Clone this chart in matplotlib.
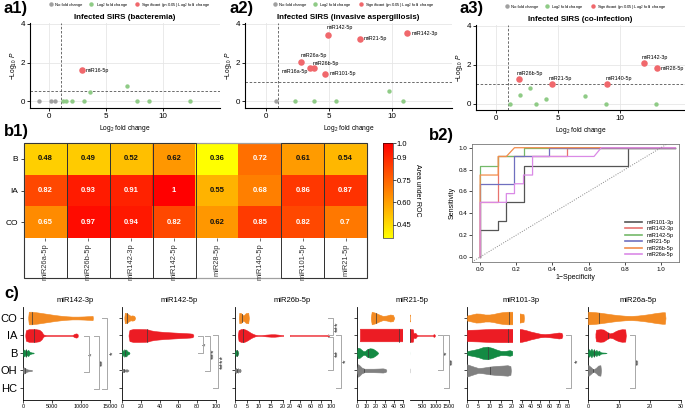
import matplotlib
matplotlib.use('Agg')
import matplotlib.pyplot as plt
import numpy as np
from matplotlib.colors import LinearSegmentedColormap
from matplotlib.lines import Line2D
from matplotlib.patches import Rectangle

plt.rcParams['font.family'] = ['Liberation Sans', 'DejaVu Sans']
plt.rcParams['mathtext.fontset'] = 'custom'
plt.rcParams['mathtext.rm'] = 'Liberation Sans'
plt.rcParams['mathtext.it'] = 'Liberation Sans:italic'

# ---------------- data: volcano plots ----------------
volcano_titles = ['Infected SIRS (bacteremia)',
                  'Infected SIRS (invasive aspergillosis)',
                  'Infected SIRS (co-infection)']

a1_grey_x = [-0.88, 0.15, 0.5]
a1_grey_y = [0, 0, 0]
a1_green_x = [1.24, 1.47, 1.97, 3.09, 3.53, 6.82, 7.7, 8.8, 12.4]
a1_green_y = [0, 0, 0, 0, 0.49, 0.78, 0, 0, 0]
a1_sig_x = [2.85]
a1_sig_y = [1.62]
a1_sig_lab = ['miR16-5p']
a1_pline = 0.54

a2_grey_x = [0.82]
a2_grey_y = [0]
a2_green_x = [2.34, 3.8, 5.56, 9.79, 10.88]
a2_green_y = [0, 0, 0, 0.52, 0]
a2_sig_x = [4.97, 7.5, 11.25, 2.82, 3.8, 3.54, 4.73]
a2_sig_y = [3.41, 3.22, 3.53, 2.02, 1.70, 1.70, 1.41]
a2_sig_lab = ['miR142-5p', 'miR21-5p', 'miR142-3p', 'miR26a-5p', 'miR26b-5p', 'miR16a-5p', 'miR101-5p']
a2_pline = 1.0

a3_grey_x = []
a3_grey_y = []
a3_green_x = [1.16, 1.97, 2.72, 3.26, 4.07, 7.17, 8.92, 12.96]
a3_green_y = [0, 0.46, 0.84, 0, 0.26, 0.41, 0, 0]
a3_sig_x = [1.83, 4.53, 8.98, 12.0, 13.02]
a3_sig_y = [1.26, 1.03, 1.04, 2.09, 1.83]
a3_sig_lab = ['miR26b-5p', 'miR21-5p', 'miR140-5p', 'miR142-3p', 'miR28-5p']
a3_pline = 1.0

# ---------------- data: AUC heatmap ----------------
auc_rows = ['B', 'IA', 'CO']
auc_cols = ['miR26a-5p', 'miR26b-5p', 'miR142-3p', 'miR142-5p',
            'miR28-5p', 'miR140-5p', 'miR101-5p', 'miR21-5p']
auc_B = [0.48, 0.49, 0.52, 0.62, 0.36, 0.72, 0.61, 0.54]
auc_IA = [0.82, 0.93, 0.91, 1, 0.55, 0.68, 0.86, 0.87]
auc_CO = [0.65, 0.97, 0.94, 0.82, 0.62, 0.85, 0.82, 0.7]

# ---------------- data: ROC curves ----------------
roc_names = ['miR101-3p', 'miR142-3p', 'miR142-5p', 'miR21-5p', 'miR26b-5p', 'miR26a-5p']
roc_fpr = [
    [0, 0, 0.1, 0.1, 0.145, 0.145, 0.24, 0.24, 0.82, 0.82, 1.08],
    [0, 0, 0.1, 0.1, 0.48, 0.48, 1.08],
    [0, 0, 0.1, 0.1, 0.24, 0.24, 1.08],
    [0, 0, 0.19, 0.19, 0.38, 0.38, 1.08],
    [0, 0, 0.1, 0.1, 0.145, 0.19, 1.08],
    [0, 0, 0.145, 0.145, 0.19, 0.19, 0.24, 0.24, 0.29, 0.29, 0.63, 0.67, 1.08],
]
roc_tpr = [
    [0, 0.25, 0.25, 0.33, 0.33, 0.5, 0.5, 0.83, 0.83, 1.0, 1.0],
    [0, 0.5, 0.5, 0.92, 0.92, 1.0, 1.0],
    [0, 0.83, 0.83, 0.92, 0.92, 1.0, 1.0],
    [0, 0.67, 0.67, 0.92, 0.92, 1.0, 1.0],
    [0, 0.75, 0.75, 0.92, 0.92, 1.0, 1.0],
    [0, 0.5, 0.5, 0.58, 0.58, 0.67, 0.67, 0.75, 0.75, 0.92, 0.92, 1.0, 1.0],
]
roc_colors = ['#555555', '#E8736F', '#74B96A', '#6F6FBF', '#F28C4B', '#DA8AE6']

# ---------------- data: violin panels (profiles) ----------------
groups = ['CO', 'IA', 'B', 'OH', 'HC']
group_colors = {'CO': '#F38A22', 'IA': '#EC1C24', 'B': '#138A43', 'OH': '#808080'}
c_titles = ['miR142-3p', 'miR142-5p', 'miR26b-5p', 'miR21-5p', 'miR101-3p', 'miR26a-5p']

# each: group -> (x values, half widths, median)
v_miR142_3p = {
    'CO': ([900, 1000, 1500, 2500, 3500, 4500, 5500, 6500, 7500, 8500, 9500, 10500, 11500, 12000, 12050],
           [0.05, 0.36, 0.36, 0.32, 0.27, 0.22, 0.17, 0.13, 0.1, 0.08, 0.08, 0.09, 0.11, 0.12, 0.0], 1500),
    'IA': ([400, 500, 1000, 2000, 2800, 3200, 3500, 4000, 6000, 8500, 8900, 9200, 9400, 9450],
           [0.05, 0.3, 0.36, 0.37, 0.33, 0.22, 0.06, 0.02, 0.02, 0.02, 0.1, 0.12, 0.08, 0.0], 1900),
    'B': ([0, 100, 300, 500, 700, 900, 1100, 1300, 1500, 1800, 1850],
          [0.05, 0.2, 0.12, 0.22, 0.1, 0.18, 0.08, 0.05, 0.03, 0.02, 0], 600),
    'OH': ([0, 100, 300, 600, 900, 1200, 1500, 1550],
           [0.1, 0.18, 0.15, 0.08, 0.05, 0.04, 0.03, 0], 400),
}
v_miR142_5p = {
    'CO': ([2.5, 3, 5, 7, 9, 11, 13, 14], [0.05, 0.3, 0.28, 0.2, 0.13, 0.15, 0.12, 0], 5),
    'IA': ([7, 8, 12, 18, 25, 28, 30, 35, 45, 55, 65, 72, 75, 76],
           [0.05, 0.32, 0.37, 0.37, 0.36, 0.34, 0.3, 0.25, 0.2, 0.17, 0.14, 0.12, 0.1, 0], 27),
    'B': ([0, 0.5, 1.5, 2.5, 3.5, 4.5, 5.5, 6.5, 7.5, 8],
          [0.05, 0.18, 0.1, 0.22, 0.12, 0.2, 0.1, 0.08, 0.05, 0], 3),
    'OH': ([0, 1, 2, 3, 4, 5, 6, 7], [0.04, 0.1, 0.06, 0.05, 0.06, 0.07, 0.05, 0], 2),
}
v_miR26b_5p = {
    'CO': ([1.6, 1.8, 2.5, 3.5, 4.5, 5.5, 5.8], [0.05, 0.3, 0.28, 0.14, 0.28, 0.3, 0], 3),
    'IA': ([1.2, 1.5, 2.5, 3.5, 4.5, 5.5, 6.5, 7.5, 8.5, 9.5, 11, 13, 15, 16.5, 18, 19.5, 21, 40, 80, 93, 94.5, 96, 96.2],
           [0.05, 0.3, 0.37, 0.38, 0.33, 0.25, 0.16, 0.09, 0.04, 0.02, 0.02, 0.05, 0.07, 0.07, 0.05, 0.02,
            0.015, 0.015, 0.015, 0.02, 0.07, 0.03, 0], 3.5),
    'B': ([0, 0.3, 0.7, 1.1, 1.4], [0.05, 0.15, 0.17, 0.12, 0], 0.7),
    'OH': ([0, 0.3, 0.8, 1.2, 1.7, 2.1, 2.4], [0.05, 0.14, 0.08, 0.13, 0.06, 0.1, 0], 1),
}
v_miR21_5p = {
    'CO': ([15, 16, 20, 24, 28, 32, 36, 39, 40.5], [0.05, 0.36, 0.3, 0.2, 0.12, 0.14, 0.2, 0.18, 0], 21),
    'IA': ([3.7, 4, 20, 40, 60, 120, 160, 180, 250, 300, 350, 500, 900, 930, 960, 980],
           [0.36, 0.36, 0.36, 0.36, 0.36, 0.36, 0.35, 0.12, 0.15, 0.05, 0.015, 0.015, 0.015, 0.08, 0.06, 0], 46),
    'B': ([0, 1, 3, 5, 7, 9, 11, 14, 17, 20, 22, 23],
          [0.1, 0.3, 0.27, 0.18, 0.1, 0.12, 0.22, 0.27, 0.25, 0.15, 0.07, 0], 12),
    'OH': ([0, 1, 3, 5, 8, 12, 18, 24, 28, 31, 32],
           [0.05, 0.36, 0.28, 0.17, 0.1, 0.1, 0.1, 0.11, 0.12, 0.09, 0], 8),
}
v_miR101_3p = {
    'CO': ([0, 2, 4, 6, 8, 10, 12, 14, 16, 18, 20, 22, 24, 28, 30, 32, 32.5],
           [0.14, 0.2, 0.26, 0.25, 0.2, 0.2, 0.24, 0.3, 0.34, 0.36, 0.36, 0.34, 0.3, 0.26, 0.24, 0.22, 0], 18.5),
    'IA': ([0, 0.2, 5, 10, 15, 20, 25, 30, 35, 40, 45, 50, 55, 60, 65, 70, 73, 74],
           [0.3, 0.32, 0.34, 0.37, 0.38, 0.38, 0.38, 0.36, 0.3, 0.22, 0.16, 0.1, 0.08, 0.1, 0.13, 0.17, 0.15, 0], 18),
    'B': ([0, 0.5, 3, 5, 7, 9, 11, 13, 15, 17, 19, 20, 20.2],
          [0.08, 0.12, 0.18, 0.24, 0.33, 0.36, 0.3, 0.2, 0.12, 0.12, 0.16, 0.12, 0], 9.5),
    'OH': ([0, 0.5, 3, 5, 7, 10, 13, 16, 18, 19.3, 19.5],
           [0.35, 0.33, 0.22, 0.14, 0.16, 0.22, 0.26, 0.28, 0.3, 0.25, 0], 10),
}
v_miR26a_5p = {
    'CO': ([0, 0.2, 2, 4, 6, 8, 10, 12, 14, 16, 18, 20, 22, 24, 24.8, 25],
           [0.35, 0.36, 0.34, 0.3, 0.25, 0.2, 0.16, 0.13, 0.12, 0.14, 0.18, 0.23, 0.29, 0.33, 0.33, 0], 3.5),
    'IA': ([2.4, 2.6, 4, 5, 6, 7, 8, 9, 10, 11, 12, 12.2],
           [0.1, 0.33, 0.36, 0.34, 0.22, 0.12, 0.16, 0.26, 0.33, 0.36, 0.35, 0], 6.5),
    'B': ([0, 0.3, 0.7, 1.1, 1.5, 1.9, 2.3, 2.7, 3.1, 3.5, 4, 4.5, 5.5, 6],
          [0.08, 0.22, 0.12, 0.25, 0.1, 0.22, 0.08, 0.18, 0.07, 0.14, 0.05, 0.03, 0.02, 0.0], 1.8),
    'OH': ([0, 0.2, 1, 1.7, 2.5, 3.3, 4, 4.2], [0.3, 0.3, 0.18, 0.06, 0.14, 0.28, 0.3, 0], 1.5),
}

# significance comparisons (group1, group2, label)
sig_miR142_3p = [('IA', 'OH', '*'), ('IA', 'HC', '**'), ('CO', 'HC', '*')]
sig_miR142_5p = [('IA', 'B', '*'), ('IA', 'OH', '***'), ('IA', 'HC', '****')]
sig_miR26b_5p = [('CO', 'IA', '***'), ('IA', 'OH', '**'), ('IA', 'HC', '*')]
sig_miR21_5p = [('IA', 'OH', '*'), ('IA', 'HC', '**')]
sig_miR101_3p = [('IA', 'HC', '*')]
sig_miR26a_5p = [('IA', 'HC', '**')]

# ---------------- figure ----------------
W, H = 685, 413
fig = plt.figure(figsize=(6.85, 4.13), dpi=100)


def box(x0, y0, x1, y1):
    return [x0 / W, 1 - y1 / H, (x1 - x0) / W, (y1 - y0) / H]


def ftext(x, y, s, **kw):
    fig.text(x / W, 1 - y / H, s, **kw)


grey_c, green_c, red_c = '#A0A0A0', '#8FCB86', '#F0686C'


def volcano(rect, xlim, ylim, gx, gy, nx, ny, sx, sy, labs, lpos, pline, title):
    ax = fig.add_axes(box(*rect))
    ax.set_xlim(*xlim)
    ax.set_ylim(*ylim)
    ax.grid(True, color='#E6E6E6', lw=0.6)
    ax.set_axisbelow(True)
    for s in ['top', 'right']:
        ax.spines[s].set_visible(False)
    for s in ['left', 'bottom']:
        ax.spines[s].set_linewidth(0.8)
    ax.set_xticks([0, 5, 10])
    ax.set_yticks([0, 2, 4])
    ax.tick_params(labelsize=5.8, length=2, width=0.6, pad=1.5)
    ax.axvline(1, ls=(0, (3, 2)), color='#555555', lw=0.6)
    ax.axhline(pline, ls=(0, (3, 2)), color='#555555', lw=0.6)
    if gx:
        ax.scatter(gx, gy, s=10, color=grey_c, lw=0, zorder=3)
    ax.scatter(nx, ny, s=10, color=green_c, lw=0, zorder=3)
    ax.scatter(sx, sy, s=22, color=red_c, lw=0, zorder=3)
    for (x, y, lab, (lx, ly, ha)) in zip(sx, sy, labs, lpos):
        ax.text(lx, ly, lab, fontsize=3.9, ha=ha, va='center', zorder=4)
    ax.set_title(title, fontsize=5.8, fontweight='bold', pad=3)
    ax.set_xlabel(r'$\mathrm{Log}_{2}$ fold change', fontsize=4.8, labelpad=2)
    ax.set_ylabel(r'$-\mathrm{Log}_{10}\ \mathit{P}$', fontsize=4.8, labelpad=1)
    handles = [Line2D([], [], marker='o', ls='', color=grey_c, ms=2.2),
               Line2D([], [], marker='o', ls='', color=green_c, ms=2.2),
               Line2D([], [], marker='o', ls='', color=red_c, ms=2.2)]
    ax.legend(handles, ['No fold change', r'Log$_2$ fold change',
                        r'Significant (p<0.05) Log$_2$ fold change'],
              loc='center', bbox_to_anchor=(0.52, 1.215), ncol=3, fontsize=3.0,
              frameon=False, handletextpad=0.1, columnspacing=1.0, borderaxespad=0)
    return ax


volcano((30, 23, 220, 108), (-1.7, 15.0), (-0.36, 4.05),
        a1_grey_x, a1_grey_y, a1_green_x, a1_green_y, a1_sig_x, a1_sig_y, a1_sig_lab,
        [(3.15, 1.58, 'left')], a1_pline, volcano_titles[0])
volcano((245, 23, 452, 108), (-1.65, 14.8), (-0.36, 4.05),
        a2_grey_x, a2_grey_y, a2_green_x, a2_green_y, a2_sig_x, a2_sig_y, a2_sig_lab,
        [(4.85, 3.8, 'left'), (7.8, 3.22, 'left'), (11.6, 3.53, 'left'), (2.8, 2.37, 'left'),
         (3.72, 1.95, 'left'), (3.35, 1.53, 'right'), (5.05, 1.41, 'left')],
        a2_pline, volcano_titles[1])
volcano((476, 25, 685, 110), (-1.62, 15.3), (-0.31, 4.05),
        a3_grey_x, a3_grey_y, a3_green_x, a3_green_y, a3_sig_x, a3_sig_y, a3_sig_lab,
        [(1.7, 1.56, 'left'), (4.3, 1.3, 'left'), (8.84, 1.3, 'left'), (11.8, 2.37, 'left'),
         (13.3, 1.83, 'left')], a3_pline, volcano_titles[2])

ftext(4, 1, 'a1)', fontsize=12, fontweight='bold', va='top')
ftext(229, 1, 'a2)', fontsize=12, fontweight='bold', va='top')
ftext(459, 1, 'a3)', fontsize=12, fontweight='bold', va='top')

# ---------------- b1 heatmap ----------------
auc = np.array([auc_B, auc_IA, auc_CO])
cmap = LinearSegmentedColormap.from_list('auc', ['#FFFF00', '#FF0000'])
axh = fig.add_axes(box(24, 143, 367, 238))
im = axh.imshow(auc, cmap=cmap, vmin=0.36, vmax=1.0, aspect='auto',
                extent=(-0.5, 7.5, 2.5, -0.5), interpolation='nearest')
for i in range(auc.shape[0]):
    for j in range(auc.shape[1]):
        v = auc[i, j]
        axh.text(j, i, f'{v:g}', ha='center', va='center', fontsize=5.5,
                 fontweight='bold', color='white' if v >= 0.64 else '#111111')
axh.set_xticks(range(len(auc_cols)))
axh.set_xticklabels(auc_cols, rotation=90, fontsize=5.4)
axh.set_yticks(range(len(auc_rows)))
axh.set_yticklabels(auc_rows, fontsize=6)
axh.tick_params(axis='x', length=2, width=0.5, pad=2, colors='#333333')
axh.tick_params(axis='y', length=2.5, width=0.5, pad=1.5)
for s in axh.spines.values():
    s.set_visible(False)
label_h = 40 / 31.7
axh.add_patch(Rectangle((-0.5, -0.5), 8, 3 + label_h, fill=False, ec='#A0A0A0', lw=0.9, clip_on=False))
for c in [0, 1, 2, 3, 6, 7]:
    axh.add_patch(Rectangle((c - 0.5, -0.5), 1, 3 + label_h, fill=False, ec='#333333',
                            lw=0.7, clip_on=False, zorder=5))

cax = fig.add_axes(box(383, 143, 393, 238))
cb = fig.colorbar(im, cax=cax, ticks=[0.45, 0.6, 0.75, 0.9, 1.0])
cb.ax.set_yticklabels(['0.45', '0.60', '0.75', '0.9', '1.0'])
cb.ax.tick_params(labelsize=5.5, length=2, width=0.5, pad=0.5)
cb.outline.set_linewidth(0.4)
cb.set_label('Area under ROC', rotation=270, fontsize=5, labelpad=7)

ftext(4, 124, 'b1)', fontsize=12, fontweight='bold', va='top')

# ---------------- b2 ROC ----------------
axr = fig.add_axes(box(472, 144, 679, 262))
for fx, fy, col, nm in zip(roc_fpr, roc_tpr, roc_colors, roc_names):
    axr.plot(fx, fy, color=col, lw=0.9, label=nm)
axr.axline((0, 0), (1, 1), ls=(0, (1, 1.5)), color='#888888', lw=0.7)
axr.set_xlim(-0.045, 1.1)
axr.set_ylim(-0.046, 1.034)
axr.set_xticks(np.arange(0, 1.01, 0.2))
axr.set_yticks(np.arange(0, 1.01, 0.2))
axr.xaxis.set_major_formatter(plt.FormatStrFormatter('%.1f'))
axr.yaxis.set_major_formatter(plt.FormatStrFormatter('%.1f'))
axr.tick_params(labelsize=4.5, length=2, width=0.5, pad=1.5)
for s in axr.spines.values():
    s.set_color('#777777')
    s.set_linewidth(0.6)
axr.set_xlabel('1\u2212Specificity', fontsize=5, labelpad=1.5)
axr.set_ylabel('Sensitivity', fontsize=5, labelpad=2)
lg = axr.legend(loc='lower right', fontsize=4, frameon=False, handlelength=3.2,
                labelspacing=0.25, borderaxespad=0.5, handletextpad=0.8)
for h in lg.get_lines():
    h.set_linewidth(1.2)
ftext(429, 128, 'b2)', fontsize=12, fontweight='bold', va='top')

# ---------------- c violins ----------------
CY0, CY1 = 307, 400
YLIM = (4.69, -0.63)
row_of = {g: i for i, g in enumerate(groups)}


def c_ax(x0, x1, xlim, xticks, left=True, labels=False):
    ax = fig.add_axes(box(x0, CY0, x1, CY1))
    ax.set_xlim(*xlim)
    ax.set_ylim(*YLIM)
    ax.patch.set_alpha(0)
    ax.spines['top'].set_visible(False)
    ax.spines['right'].set_visible(False)
    ax.spines['bottom'].set_linewidth(0.6)
    ax.spines['left'].set_linewidth(0.6)
    if left:
        ax.set_yticks(range(5))
        if labels:
            ax.set_yticklabels(groups, fontsize=8)
        else:
            ax.set_yticklabels([])
    else:
        ax.spines['left'].set_visible(False)
        ax.set_yticks([])
    ax.set_xticks(xticks)
    ax.tick_params(axis='x', labelsize=3.9, length=2, width=0.5, pad=1)
    ax.tick_params(axis='y', length=2, width=0.5, pad=2)
    return ax


def draw_violins(axes, data):
    for g, (xs, ws, med) in data.items():
        r = row_of[g]
        xs = np.asarray(xs, float)
        ws = np.asarray(ws, float)
        col = group_colors[g]
        for ax in axes:
            ax.fill_between(xs, r - ws, r + ws, facecolor=col, edgecolor=col, lw=0.4, zorder=3)
            wm = np.interp(med, xs, ws)
            ax.plot([med, med], [r - wm, r + wm], color='#3A3A3A', lw=0.5, zorder=4)


def brackets(ax, sigs, xs, lxs, tick, offs=None):
    for k, ((g1, g2, lab), x, lx) in enumerate(zip(sigs, xs, lxs)):
        r1, r2 = row_of[g1], row_of[g2]
        if offs is not None:
            r1 += offs[k][0]
            r2 += offs[k][1]
        ax.plot([x - tick, x, x, x - tick], [r1, r1, r2, r2], color='#A8A8A8', lw=0.7,
                clip_on=False, zorder=5)
        ax.text(lx, (r1 + r2) / 2, lab, rotation=90, ha='center', va='center',
                fontsize=6.5, color='#333333', clip_on=False)


# c1
ax1 = c_ax(23, 110, (0, 15000), [0, 5000, 10000, 15000], labels=True)
ax1.set_xticklabels(['0', '5000', '10000', '15000'])
draw_violins([ax1], v_miR142_3p)
brackets(ax1, sig_miR142_3p, [11300, 13050, 14430], [11950, 13850, 15500], 850,
         offs=[(0.05, 0.1), (0.05, 0.05), (0, 0.05)])

# c2
ax2 = c_ax(122, 216, (0, 100), [0, 20, 40, 60, 80, 100])
draw_violins([ax2], v_miR142_5p)
brackets(ax2, sig_miR142_5p, [86, 93.6, 102.5], [89.8, 97.5, 107.5], 5.5,
         offs=[(0.05, 0), (0.05, 0.05), (0, 0)])

# c3 (broken axis)
ax3a = c_ax(235, 283, (0, 20), [0, 5, 10, 15, 20])
ax3b = c_ax(290, 331, (20, 100), [20, 40, 60, 80, 100], left=False)
draw_violins([ax3a, ax3b], v_miR26b_5p)
brackets(ax3b, sig_miR26b_5p, [104, 104, 119.5], [114, 114, 129], 9.5,
         offs=[(0, -0.05), (0.08, 0), (0.0, 0)])

# c4 (broken axis)
ax4a = c_ax(357, 403, (0, 50), [0, 10, 20, 30, 40, 50])
ax4b = c_ax(410, 449, (50, 1500), [500, 1000, 1500], left=False)
draw_violins([ax4a, ax4b], v_miR21_5p)
brackets(ax4b, sig_miR21_5p, [1277, 1500], [1420, 1660], 185)

# c5 (broken axis)
ax5a = c_ax(467, 512, (0, 20), [0, 5, 10, 15, 20])
ax5b = c_ax(520, 568, (28.2, 80), [30, 40, 50, 60, 70, 80], left=False)
draw_violins([ax5a, ax5b], v_miR101_3p)
brackets(ax5b, sig_miR101_3p, [82.8], [90.6], 5.4)

# c6
ax6 = c_ax(588, 681, (0, 30), [0, 10, 20, 30])
draw_violins([ax6], v_miR26a_5p)
brackets(ax6, sig_miR26a_5p, [15.0], [16.6], 1.6)

for t, xc in zip(c_titles, [75, 179, 292, 412, 521, 638]):
    ftext(xc, 300, t, fontsize=5.5, ha='center', va='center')
ftext(4, 286, 'c)', fontsize=12, fontweight='bold', va='top')

fig.savefig('out.png', dpi=100)
